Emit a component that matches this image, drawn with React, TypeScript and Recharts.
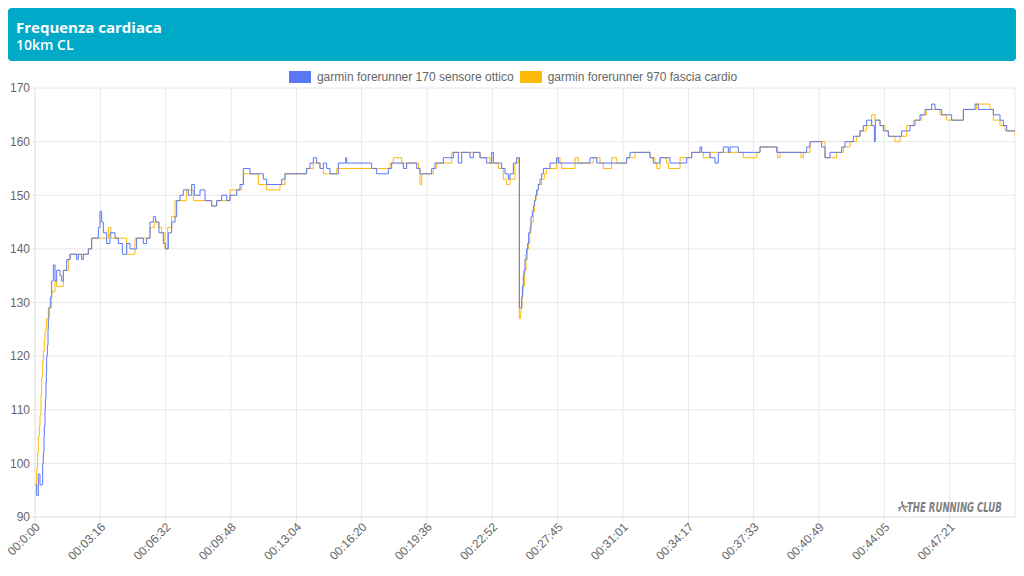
import React from "react";
import { LineChart, Line, XAxis, YAxis, CartesianGrid } from "recharts";

const opticalIdx = [
  0, 5, 10, 15, 23, 25, 27, 28, 30, 31, 33, 34, 35, 37, 39, 40, 42, 46, 50, 55,
  60, 65, 75, 80, 85, 95, 105, 125, 130, 140, 145, 160, 170, 190, 195, 200, 205,
  215, 225, 240, 250, 262, 275, 285, 305, 325, 335, 345, 355, 362, 372, 385, 392,
  400, 410, 420, 425, 435, 445, 460, 470, 478, 495, 510, 530, 545, 560, 575, 585,
  605, 615, 625, 645, 685, 695, 730, 740, 750, 815, 825, 835, 845, 855, 865, 875,
  885, 910, 932, 935, 1005, 1010, 1025, 1060, 1070, 1105, 1115, 1145, 1155, 1190,
  1200, 1225, 1255, 1270, 1280, 1305, 1315, 1335, 1355, 1370, 1375, 1400, 1410,
  1420, 1425, 1435, 1445,
  1453, 1457, 1460, 1462, 1465, 1467, 1470, 1473, 1475, 1478, 1481, 1485, 1488,
  1492, 1495, 1498, 1502, 1505, 1510, 1515, 1520, 1525, 1545, 1565, 1570,
  1665, 1685, 1775, 1785, 1845, 1855, 1875, 1905, 1955, 1970, 1995, 2000, 2025,
  2040, 2050, 2065, 2080, 2085, 2110, 2175, 2225, 2315, 2325, 2360, 2370, 2385,
  2420, 2430, 2455, 2475, 2485, 2495, 2510, 2518, 2521, 2535, 2545, 2560, 2600,
  2625, 2640, 2655, 2670, 2690, 2700, 2720, 2750, 2785, 2820, 2830, 2875, 2895,
  2905, 2915, 2940,
];
const opticalHr = [
  96, 94, 98, 96, 100, 102, 105, 107, 110, 112, 115, 117, 120, 122, 125, 127, 129,
  131, 134, 137, 134, 136, 135, 134, 136, 138, 139, 138, 139, 138, 139, 140, 142,
  144, 147, 145, 143, 141, 143, 142, 141, 139, 141, 140, 142, 141, 142, 145, 146,
  145, 143, 141, 140, 143, 145, 146, 149, 150, 151, 150, 152, 150, 151, 149, 148,
  149, 150, 149, 150, 151, 152, 155, 154, 153, 152, 152, 153, 154, 155, 156, 157,
  156, 155, 156, 155, 154, 156, 157, 156, 156, 155, 154, 155, 156, 155, 156, 155,
  154, 155, 156, 157, 158, 156, 158, 157, 158, 157, 156, 158, 156, 155, 154, 153,
  154, 156, 157,
  129, 129, 131, 133, 135, 136, 138, 139, 140, 141, 143, 144, 146, 147, 148, 149,
  150, 151, 152, 153, 154, 155, 156, 157, 156,
  157, 156, 157, 158, 157, 156, 157, 156, 157, 158, 159, 158, 157, 156, 158, 159,
  158, 159, 158, 159, 158, 159, 160, 159, 157, 158, 159, 160, 161, 162, 163, 164,
  163, 160, 164, 163, 162, 161, 162, 163, 164, 165, 166, 167, 166, 165, 164, 166,
  167, 166, 165, 164, 163, 162, 162,
];

const strapIdx = [
  0, 5, 8, 10, 13, 15, 18, 20, 23, 25, 28, 30, 35, 40, 50, 60, 65, 85, 100, 105,
  160, 170, 220, 228, 275, 300, 345, 358, 370, 380, 390, 398, 410, 420, 455, 475,
  530, 545, 585, 620, 625, 670, 695, 735, 750, 815, 835, 855, 865, 905, 1065,
  1075, 1100, 1150, 1155, 1160, 1195, 1205, 1250, 1335, 1365, 1390, 1405, 1415,
  1425, 1440, 1450,
  1453, 1456, 1458, 1461, 1463, 1465, 1468, 1470, 1473, 1477, 1480, 1484, 1488,
  1495, 1499, 1503, 1507, 1510, 1520, 1528, 1535,
  1565, 1575, 1580, 1620, 1630, 1675, 1695, 1705, 1730, 1745, 1775, 1800, 1845,
  1860, 1865, 1875, 1895, 1900, 1935, 1970, 2005, 2025, 2125, 2165, 2175, 2228,
  2235, 2298, 2305, 2325, 2370, 2405, 2425, 2445, 2465, 2475, 2495, 2510, 2520,
  2535, 2550, 2560, 2580, 2595, 2615, 2635, 2660, 2675, 2715, 2735, 2785, 2825,
  2865, 2875, 2895, 2910, 2940,
];
const strapHr = [
  95, 99, 102, 105, 107, 109, 113, 116, 119, 121, 123, 125, 127, 129, 132, 134,
  133, 136, 138, 139, 140, 142, 144, 142, 139, 142, 144, 145, 144, 143, 140, 144,
  146, 149, 151, 149, 148, 149, 151, 152, 154, 152, 151, 152, 154, 155, 156, 155,
  154, 155, 156, 157, 156, 155, 152, 154, 155, 156, 158, 157, 156, 155, 153, 152,
  153, 156, 157,
  127, 128, 129, 131, 132, 133, 135, 136, 138, 140, 141, 143, 145, 147, 149, 150,
  151, 152, 153, 154, 155,
  157, 156, 155, 157, 156, 157, 156, 155, 157, 156, 157, 158, 157, 156, 155, 157,
  156, 155, 157, 158, 157, 158, 157, 158, 159, 157, 158, 157, 158, 160, 157, 158,
  159, 160, 161, 162, 163, 165, 164, 163, 162, 161, 160, 161, 163, 164, 165, 166,
  165, 164, 166, 167, 166, 164, 163, 162, 161,
];

const tickIdx = [0, 196, 392, 588, 784, 980, 1176, 1372, 1568, 1764, 1960, 2156, 2352, 2548, 2744];
const tickLabels = [
  "00:0:00", "00:03:16", "00:06:32", "00:09:48", "00:13:04", "00:16:20", "00:19:36",
  "00:22:52", "00:27:45", "00:31:01", "00:34:17", "00:37:33", "00:40:49", "00:44:05",
  "00:47:21",
];
const hrTicks = [90, 100, 110, 120, 130, 140, 150, 160, 170];

const seriesNames = ["garmin forerunner 170 sensore ottico", "garmin forerunner 970 fascia cardio"];
const BLUE = "#5a77f6";
const ORANGE = "#ffb909";
const GRID = "#e8e8e8";

const opticalData = opticalIdx.map((i, k) => ({ i, hr: opticalHr[k] }));
const strapData = strapIdx.map((i, k) => ({ i, hr: strapHr[k] }));

const font = "'Liberation Sans', Arial, sans-serif";

function TimeTick(props: any) {
  const { x, y, payload } = props;
  const k = tickIdx.indexOf(payload.value);
  return (
    <text
      x={x + 3}
      y={y + 1}
      transform={`rotate(-45, ${x + 3}, ${y + 1})`}
      textAnchor="end"
      dominantBaseline="central"
      fontSize={12}
      fontFamily={font}
      fill="#666"
    >
      {tickLabels[k]}
    </text>
  );
}

export default function App() {
  return (
    <div style={{ position: "relative", width: 1008, height: 568, fontFamily: font }}>
      <style>{".recharts-surface { overflow: visible; }"}</style>
      <div
        style={{
          position: "absolute",
          left: 0,
          top: 0,
          width: 1008,
          height: 53,
          background: "#00a9c8",
          borderRadius: 4,
          color: "#fff",
          fontFamily: "'Open Sans', sans-serif",
        }}
      >
        <div style={{ position: "absolute", left: 8, top: 9, fontSize: 15, fontWeight: 700, lineHeight: "20px" }}>
          Frequenza cardiaca
        </div>
        <div style={{ position: "absolute", left: 8, top: 27, fontSize: 14, fontWeight: 600, lineHeight: "20px" }}>
          10km CL
        </div>
      </div>

      <div
        style={{
          position: "absolute",
          left: 0,
          top: 62,
          width: 1008,
          display: "flex",
          justifyContent: "center",
          alignItems: "center",
          fontSize: 12,
          color: "#666",
          paddingLeft: 8,
          boxSizing: "border-box",
        }}
      >
        {[BLUE, ORANGE].map((c, k) => (
          <div key={k} style={{ display: "flex", alignItems: "center", marginRight: 6 }}>
            <span style={{ width: 22, height: 12, background: c, display: "inline-block", marginRight: 6 }} />
            <span>{seriesNames[k]}</span>
          </div>
        ))}
      </div>

      <div style={{ position: "absolute", left: 0, top: 54 }}>
        <LineChart width={1008} height={514} margin={{ top: 26, right: 1, left: 0, bottom: 0 }}>
          <CartesianGrid stroke={GRID} />
          <XAxis
            type="number"
            dataKey="i"
            domain={[0, 2940]}
            ticks={tickIdx}
            interval={0}
            height={59}
            tick={<TimeTick />}
            tickSize={5}
            tickLine={{ stroke: GRID }}
            axisLine={{ stroke: GRID }}
            allowDataOverflow
          />
          <YAxis
            type="number"
            domain={[90, 170]}
            ticks={hrTicks}
            interval={0}
            width={27}
            tickSize={3}
            tick={{ fontSize: 12, fill: "#666", fontFamily: font }}
            tickLine={{ stroke: GRID }}
            axisLine={{ stroke: GRID }}
          />
          <Line
            data={strapData}
            dataKey="hr"
            type="stepAfter"
            stroke={ORANGE}
            strokeWidth={1}
            dot={false}
            isAnimationActive={false}
          />
          <Line
            data={opticalData}
            dataKey="hr"
            type="stepAfter"
            stroke={BLUE}
            strokeWidth={1}
            dot={false}
            isAnimationActive={false}
          />
        </LineChart>
      </div>

      <div
        style={{
          position: "absolute",
          left: 889,
          top: 491,
          display: "flex",
          alignItems: "center",
          whiteSpace: "nowrap",
          color: "#7f7f7f",
        }}
      >
        <svg width={12} height={12} viewBox="0 0 14 14" style={{ marginRight: 0 }}>
          <path d="M5 2 L7 5 L4 8 L2 12 M7 5 L10 7 L13 6 M7 5 L8 9 L11 13 M4 8 L1 8" stroke="#7f7f7f" strokeWidth={1.5} fill="none" />
          <circle cx={6} cy={1.5} r={1.3} fill="#7f7f7f" />
        </svg>
        <span
          style={{
            fontFamily: "'DejaVu Sans Condensed', 'DejaVu Sans', sans-serif",
            fontWeight: 700,
            fontStyle: "italic",
            fontSize: 14,
            display: "inline-block",
            transform: "translateX(-2px) scaleX(0.68)",
            transformOrigin: "left center",
          }}
        >
          THE RUNNING CLUB
        </span>
      </div>
    </div>
  );
}
